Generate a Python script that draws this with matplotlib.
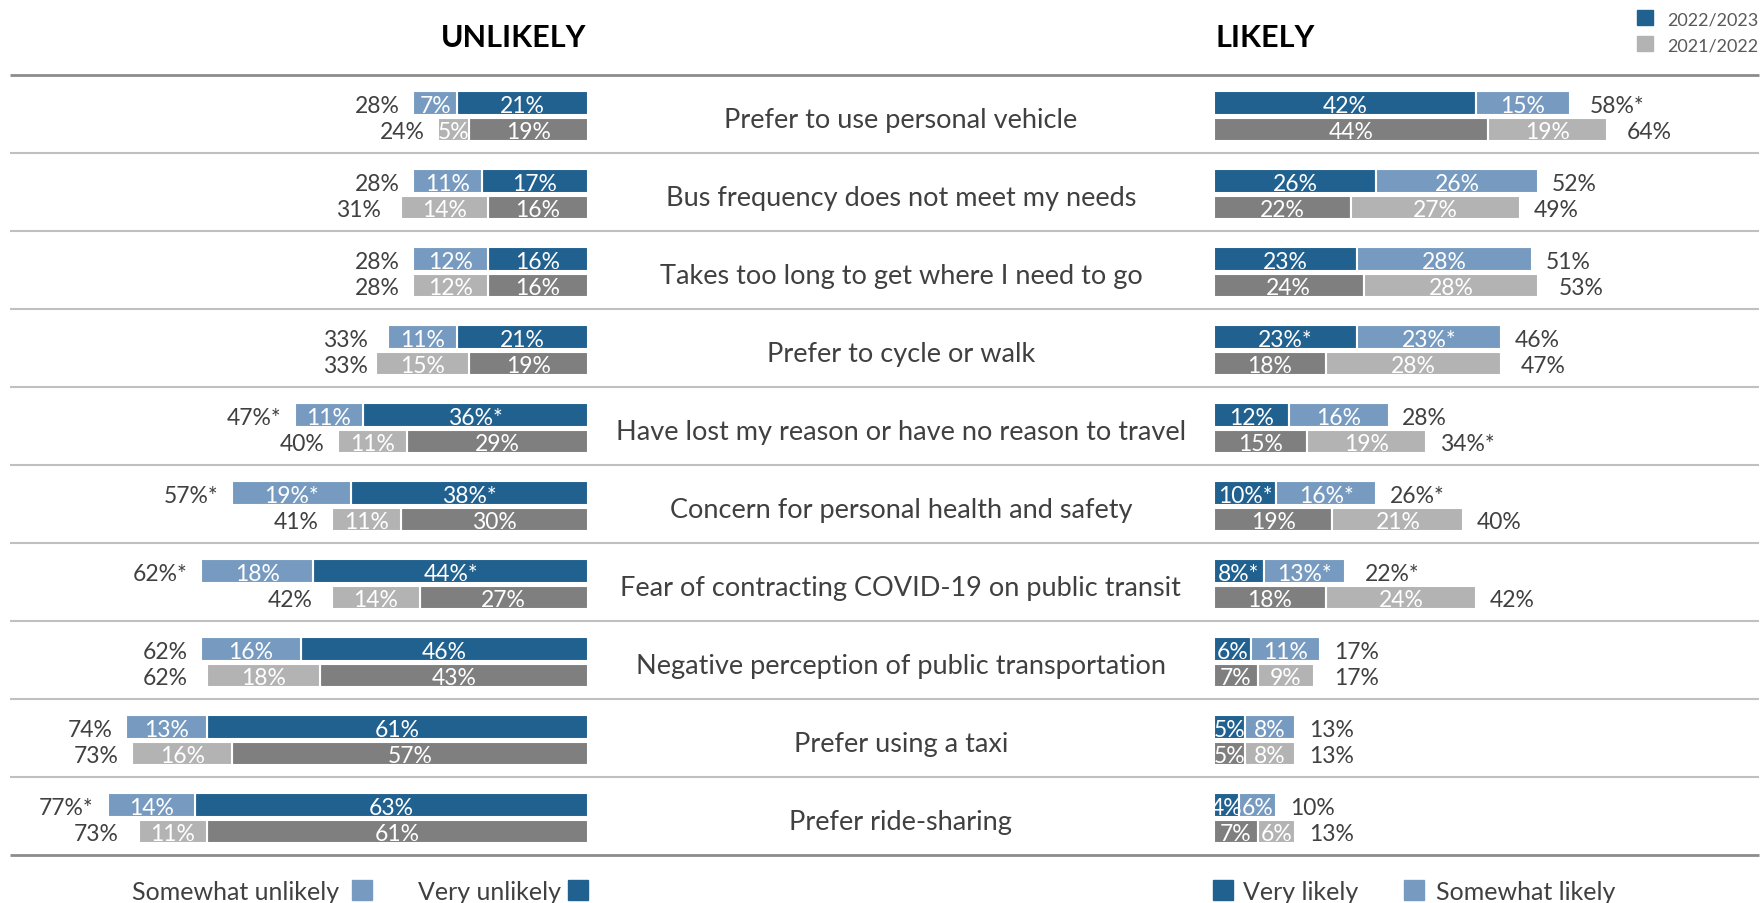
import matplotlib.pyplot as plt
from matplotlib.patches import Rectangle

plt.rcParams['font.family'] = ['Lato', 'DejaVu Sans']

categories = [
    "Prefer to use personal vehicle",
    "Bus frequency does not meet my needs",
    "Takes too long to get where I need to go",
    "Prefer to cycle or walk",
    "Have lost my reason or have no reason to travel",
    "Concern for personal health and safety",
    "Fear of contracting COVID-19 on public transit",
    "Negative perception of public transportation",
    "Prefer using a taxi",
    "Prefer ride-sharing",
]

# unlikely side, 2022/2023
unl_tot_23 = ["28%", "28%", "28%", "33%", "47%*", "57%*", "62%*", "62%", "74%", "77%*"]
unl_some_23 = ["7%", "11%", "12%", "11%", "11%", "19%*", "18%", "16%", "13%", "14%"]
unl_very_23 = ["21%", "17%", "16%", "21%", "36%*", "38%*", "44%*", "46%", "61%", "63%"]
# unlikely side, 2021/2022
unl_tot_22 = ["24%", "31%", "28%", "33%", "40%", "41%", "42%", "62%", "73%", "73%"]
unl_some_22 = ["5%", "14%", "12%", "15%", "11%", "11%", "14%", "18%", "16%", "11%"]
unl_very_22 = ["19%", "16%", "16%", "19%", "29%", "30%", "27%", "43%", "57%", "61%"]

# likely side, 2022/2023
lik_very_23 = ["42%", "26%", "23%", "23%*", "12%", "10%*", "8%*", "6%", "5%", "4%"]
lik_some_23 = ["15%", "26%", "28%", "23%*", "16%", "16%*", "13%*", "11%", "8%", "6%"]
lik_tot_23 = ["58%*", "52%", "51%", "46%", "28%", "26%*", "22%*", "17%", "13%", "10%"]
# likely side, 2021/2022
lik_very_22 = ["44%", "22%", "24%", "18%", "15%", "19%", "18%", "7%", "5%", "7%"]
lik_some_22 = ["19%", "27%", "28%", "28%", "19%", "21%", "24%", "9%", "8%", "6%"]
lik_tot_22 = ["64%", "49%", "53%", "47%", "34%*", "40%", "42%", "17%", "13%", "13%"]

BLUE_DARK = '#21618F'
BLUE_LIGHT = '#779BC0'
GREY_DARK = '#7F7F7F'
GREY_LIGHT = '#B3B3B3'
TXT = '#404040'
FS = 16.5


def val(s):
    return float(s.rstrip('%*'))


# x is in percentage points, 0 = inner end of the "unlikely" bars
R0 = 100.3          # where the "likely" bars start
GAP = 2.2           # gap between bar end and total label
BAR_H = 0.30
OFF_23, OFF_22 = 0.361, 0.696   # bar centres inside a row

fig = plt.figure(figsize=(17.62, 9.04), dpi=100)
ax = fig.add_axes([0, 0, 1, 1])
ax.set_xlim(-94.23, 188.14)
ax.set_ylim(10.615, -0.974)
ax.axis('off')

# row separators
ax.hlines(range(1, 10), -92.6, 187.7, color='#C0C0C0', lw=1.5)
ax.hlines([0, 10], -92.6, 187.7, color='#8C8C8C', lw=2)

rows = range(len(categories))
series = [
    (OFF_23, unl_very_23, unl_some_23, unl_tot_23, lik_very_23, lik_some_23, lik_tot_23,
     BLUE_DARK, BLUE_LIGHT),
    (OFF_22, unl_very_22, unl_some_22, unl_tot_22, lik_very_22, lik_some_22, lik_tot_22,
     GREY_DARK, GREY_LIGHT),
]

for off, u_very, u_some, u_tot, l_very, l_some, l_tot, c_very, c_some in series:
    for i in rows:
        y = i + off
        uv, us, ut = val(u_very[i]), val(u_some[i]), val(u_tot[i])
        lv, ls, lt = val(l_very[i]), val(l_some[i]), val(l_tot[i])

        # unlikely, growing to the left
        ax.barh(y, uv, left=-uv, height=BAR_H, color=c_very, edgecolor='white', lw=1.5)
        ax.barh(y, us, left=-uv - us, height=BAR_H, color=c_some, edgecolor='white', lw=1.5)
        ax.text(-uv / 2, y, u_very[i], color='white', fontsize=FS,
                ha='center', va='center_baseline')
        ax.text(-uv - us / 2, y, u_some[i], color='white', fontsize=FS,
                ha='center', va='center_baseline')
        ax.text(-ut - GAP, y, u_tot[i], color=TXT, fontsize=FS,
                ha='right', va='center_baseline')

        # likely, growing to the right
        ax.barh(y, lv, left=R0, height=BAR_H, color=c_very, edgecolor='white', lw=1.5)
        ax.barh(y, ls, left=R0 + lv, height=BAR_H, color=c_some, edgecolor='white', lw=1.5)
        ax.text(R0 + lv / 2, y, l_very[i], color='white', fontsize=FS,
                ha='center', va='center_baseline')
        ax.text(R0 + lv + ls / 2, y, l_some[i], color='white', fontsize=FS,
                ha='center', va='center_baseline')
        ax.text(R0 + lt + GAP, y, l_tot[i], color=TXT, fontsize=FS,
                ha='left', va='center_baseline')

for i, cat in enumerate(categories):
    ax.text(R0 / 2, i + 0.67, cat, color=TXT, fontsize=19.5, ha='center', va='baseline')

# headers
ax.text(-0.2, -0.376, "UNLIKELY", fontsize=22, fontweight='bold', color='black',
        ha='right', va='baseline')
ax.text(R0 + 0.2, -0.376, "LIKELY", fontsize=22, fontweight='bold', color='black',
        ha='left', va='baseline')

# year legend, top right
for yy, col, lab in [(-0.735, BLUE_DARK, "2022/2023"), (-0.40, GREY_LIGHT, "2021/2022")]:
    ax.add_patch(Rectangle((168.1, yy - 0.096), 2.5, 0.192, color=col))
    ax.text(173.0, yy, lab, fontsize=13, color='#595959', ha='left', va='center_baseline')

# answer legend, bottom
ly = 10.445
for x0, col in [(-37.8, BLUE_LIGHT), (-3.2, BLUE_DARK), (100.2, BLUE_DARK), (130.7, BLUE_LIGHT)]:
    ax.add_patch(Rectangle((x0, ly - 0.128), 3.2, 0.256, color=col))
ax.text(-39.9, ly, "Somewhat unlikely", fontsize=18, color=TXT, ha='right', va='center_baseline')
ax.text(-4.4, ly, "Very unlikely", fontsize=18, color=TXT, ha='right', va='center_baseline')
ax.text(104.9, ly, "Very likely", fontsize=18, color=TXT, ha='left', va='center_baseline')
ax.text(135.9, ly, "Somewhat likely", fontsize=18, color=TXT, ha='left', va='center_baseline')

fig.savefig('out.png', dpi=100)
